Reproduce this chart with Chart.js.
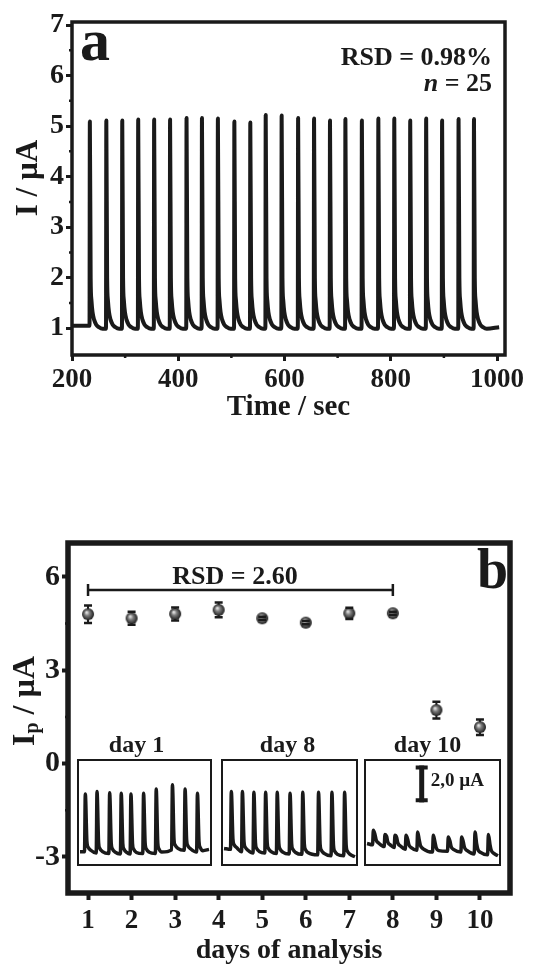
<!DOCTYPE html>
<html>
<head>
<meta charset="utf-8">
<script src="https://cdn.jsdelivr.net/npm/chart.js@4.4.1/dist/chart.umd.min.js"></script>
<style>
  html,body{margin:0;padding:0;background:#fff;}
  #wrap{position:relative;width:553px;height:966px;overflow:hidden;}
  .box{position:absolute;}
</style>
</head>
<body>
<div id="wrap">
  <div class="box" style="left:0;top:0;width:553px;height:430px"><canvas id="chartA"></canvas></div>
  <div class="box" style="left:0;top:500px;width:553px;height:470px"><canvas id="chartB"></canvas></div>
  <div class="box" style="left:77px;top:727px;width:135px;height:139px"><canvas id="inset1"></canvas></div>
  <div class="box" style="left:221px;top:727px;width:137px;height:139px"><canvas id="inset2"></canvas></div>
  <div class="box" style="left:364px;top:727px;width:137px;height:139px"><canvas id="inset3"></canvas></div>
</div>
<script>
'use strict';
// panel a: amperometric response, n = 25 injections
const timeTicks=[200,400,600,800,1000];
const timeMinor=[300,500,700,900];
const currentTicks=[1,2,3,4,5,6,7];
const currentMinor=[1.5,2.5,3.5,4.5,5.5,6.5];
const peakTimes=[233,264,294,324,354,384,415,444,474,505,535,564,594,625,655,685,714,745,776,806,836,866,896,927,956];
const peakHeights=[5.09,5.11,5.11,5.13,5.13,5.13,5.16,5.16,5.15,5.09,5.07,5.22,5.21,5.16,5.15,5.11,5.14,5.11,5.15,5.15,5.11,5.15,5.11,5.14,5.14];
const tailOffsets=[1.5,3,5,8,12,17,24];          // s after each spike
const tailLevels=[2.0,1.55,1.32,1.17,1.07,1.02,0.99]; // µA
const startLevel=1.05;
const endLevel=1.02;
const traceStart=202;
const traceEnd=1004;

// panel b: peak current over days
const days=[1,2,3,4,5,6,7,8,9,10];
const ipValues=[4.80,4.67,4.81,4.94,4.67,4.53,4.83,4.83,1.72,1.17];
const ipErrors=[0.28,0.21,0.21,0.24,0.05,0.05,0.18,0.05,0.27,0.25];
const ipTicks=[-3,0,3,6];
const ipMinor=[-1.5,1.5,4.5];
const rsdFrom=1;
const rsdTo=8;
const rsdLevel=5.58;

// insets (x in % of box width, y in µA)
const insetNames=['day 1','day 8','day 10'];
const day1Pos=[5.5,14.3,23.8,32.5,39.8,49.3,58.8,71,80.5,89.8];
const day1Top=[3.86,3.99,3.92,3.9,3.86,3.9,4.13,4.35,4.13,3.9];
const day1Base=[0.72,0.65,0.62,0.6,0.6,0.62,0.62,0.82,0.8,0.7];
const day8Pos=[6.9,15.1,23.6,32.3,40.9,50.4,59.8,71.5,81.4,90.8];
const day8Top=[3.99,3.99,3.95,3.95,3.95,3.9,3.95,3.95,3.95,3.95];
const day8Base=[0.85,0.72,0.65,0.65,0.62,0.6,0.58,0.55,0.5,0.5];
const day10Pos=[6.2,14.8,22.2,30.4,39,50.6,61.7,71.6,81.5,91.4];
const day10Top=[1.88,1.65,1.61,1.61,1.79,1.61,1.52,1.52,1.79,1.65];
const day10Base=[1.1,1.0,0.95,0.85,0.8,0.7,0.75,0.7,0.6,0.55];
const insetStart=[0.72,0.9,1.17];
const insetEnd=[0.85,0.45,0.5];
const insetTailOffsets=[0.6,1.5,3.5];
const insetTailLevels=[0.55,0.25,0.08];
const scaleBarX=42;
const scaleBarFrom=3.4;
const scaleBarTo=5.4;

const ink='#1a1a1a';
const serif="'Liberation Serif','Times New Roman','DejaVu Serif',serif";

let traceA=[{x:traceStart,y:startLevel}];
let lastLevel=startLevel;
for(let i=0;i<peakTimes.length;i++){
  let t=peakTimes[i];
  traceA.push({x:t,y:lastLevel});
  traceA.push({x:t+0.6,y:peakHeights[i]});
  for(let k=0;k<tailOffsets.length;k++){
    traceA.push({x:t+0.6+tailOffsets[k],y:tailLevels[k]});
  }
  lastLevel=tailLevels[tailLevels.length-1];
}
traceA.push({x:traceEnd,y:endLevel});

function insetTrace(pos,top,base,start,end){
  let pts=[{x:1.5,y:start}];
  for(let i=0;i<pos.length;i++){
    pts.push({x:pos[i]-0.6,y:base[i]});
    pts.push({x:pos[i],y:top[i]});
    for(let k=0;k<insetTailOffsets.length;k++){
      pts.push({x:pos[i]+0.6+insetTailOffsets[k],y:base[i]+insetTailLevels[k]});
    }
  }
  pts.push({x:98.5,y:end});
  return pts;
}

function makeSphere(r){
  let c=document.createElement('canvas');
  c.width=c.height=2*r+2;
  let g=c.getContext('2d');
  let cx=r+1;
  let grad=g.createRadialGradient(cx-r*0.25,cx-r*0.3,r*0.1,cx,cx,r);
  grad.addColorStop(0,'#e0e0e0');
  grad.addColorStop(0.35,'#808080');
  grad.addColorStop(1,'#1c1c1c');
  g.fillStyle=grad;
  g.beginPath();
  g.arc(cx,cx,r,0,Math.PI*2);
  g.fill();
  return c;
}

const framePlugin={
  id:'frame',
  afterDraw(chart,args,opts){
    let a=chart.chartArea, ctx=chart.ctx;
    ctx.save();
    ctx.strokeStyle=ink;
    ctx.lineWidth=opts.width;
    ctx.strokeRect(a.left,a.top,a.right-a.left,a.bottom-a.top);
    ctx.restore();
  }
};

const minorPlugin={
  id:'minor',
  afterDraw(chart,args,opts){
    let ctx=chart.ctx, sx=chart.scales.x, sy=chart.scales.y, a=chart.chartArea;
    ctx.save();
    ctx.strokeStyle=ink;
    ctx.lineWidth=2.5;
    ctx.beginPath();
    (opts.x||[]).forEach(v=>{let p=sx.getPixelForValue(v);ctx.moveTo(p,a.bottom);ctx.lineTo(p,a.bottom+opts.len);});
    (opts.y||[]).forEach(v=>{let p=sy.getPixelForValue(v);ctx.moveTo(a.left,p);ctx.lineTo(a.left-opts.len,p);});
    ctx.stroke();
    ctx.restore();
  }
};

function font(size,style){return (style||'')+' bold '+size+'px '+serif;}

// rotated y title; sub is an optional subscript after the first part
function yTitle(ctx,x,y,size,main,sub,rest){
  ctx.save();
  ctx.translate(x,y);
  ctx.rotate(-Math.PI/2);
  ctx.textBaseline='middle';
  ctx.textAlign='left';
  ctx.font=font(size);
  let w1=ctx.measureText(main).width, w3=ctx.measureText(rest).width;
  ctx.font=font(Math.round(size*0.62));
  let w2=sub?ctx.measureText(sub).width:0;
  let x0=-(w1+w2+w3)/2;
  ctx.font=font(size);
  ctx.fillText(main,x0,0);
  if(sub){
    ctx.font=font(Math.round(size*0.62));
    ctx.fillText(sub,x0+w1,size*0.2);
  }
  ctx.font=font(size);
  ctx.fillText(rest,x0+w1+w2,0);
  ctx.restore();
}

const textA={
  id:'textA',
  afterDraw(chart){
    let ctx=chart.ctx;
    ctx.save();
    ctx.fillStyle=ink;
    ctx.textBaseline='alphabetic';
    ctx.font=font(60);
    ctx.textAlign='left';
    ctx.fillText('a',80,60);
    ctx.font=font(26);
    ctx.textAlign='right';
    ctx.fillText('RSD = 0.98%',492,65);
    let rest=' = 25';
    ctx.fillText(rest,492,91);
    let w=ctx.measureText(rest).width;
    ctx.font=font(26,'italic');
    ctx.fillText('n',492-w,91);
    yTitle(ctx,29,178,31,'I','',' / µA');
    ctx.restore();
  }
};

const textB={
  id:'textB',
  afterDraw(chart){
    let ctx=chart.ctx, sx=chart.scales.x, sy=chart.scales.y;
    ctx.save();
    ctx.fillStyle=ink;
    ctx.strokeStyle=ink;
    // RSD bracket over days 1-8
    let x1=sx.getPixelForValue(rsdFrom), x2=sx.getPixelForValue(rsdTo), yl=sy.getPixelForValue(rsdLevel);
    ctx.lineWidth=2.5;
    ctx.beginPath();
    ctx.moveTo(x1,yl);ctx.lineTo(x2,yl);
    ctx.moveTo(x1,yl-6);ctx.lineTo(x1,yl+6);
    ctx.moveTo(x2,yl-6);ctx.lineTo(x2,yl+6);
    ctx.stroke();
    ctx.textBaseline='alphabetic';
    ctx.textAlign='center';
    ctx.font=font(26);
    ctx.fillText('RSD = 2.60',235,84);
    ctx.textAlign='left';
    ctx.font=font(56);
    ctx.fillText('b',477,88);
    yTitle(ctx,26,201,32,'I','p',' / µA');
    ctx.restore();
  }
};

const errorBars={
  id:'errorBars',
  beforeDatasetsDraw(chart){
    let ctx=chart.ctx, sx=chart.scales.x, sy=chart.scales.y;
    ctx.save();
    ctx.strokeStyle=ink;
    ctx.lineWidth=2;
    ctx.beginPath();
    days.forEach((d,i)=>{
      let x=sx.getPixelForValue(d);
      ctx.moveTo(x,sy.getPixelForValue(ipValues[i]+ipErrors[i]));
      ctx.lineTo(x,sy.getPixelForValue(ipValues[i]-ipErrors[i]));
    });
    ctx.stroke();
    ctx.restore();
  },
  afterDatasetsDraw(chart){
    let ctx=chart.ctx, sx=chart.scales.x, sy=chart.scales.y;
    ctx.save();
    ctx.strokeStyle=ink;
    ctx.lineWidth=2.5;
    ctx.beginPath();
    days.forEach((d,i)=>{
      let x=sx.getPixelForValue(d);
      [ipValues[i]+ipErrors[i],ipValues[i]-ipErrors[i]].forEach(v=>{
        let y=sy.getPixelForValue(v);
        ctx.moveTo(x-4,y);ctx.lineTo(x+4,y);
      });
    });
    ctx.stroke();
    ctx.restore();
  }
};

const insetDeco={
  id:'insetDeco',
  afterDraw(chart,args,opts){
    let a=chart.chartArea, ctx=chart.ctx;
    ctx.save();
    ctx.strokeStyle=ink;
    ctx.lineWidth=2;
    ctx.strokeRect(a.left,a.top,a.right-a.left,a.bottom-a.top);
    ctx.fillStyle=ink;
    ctx.font=font(24);
    ctx.textAlign='center';
    ctx.textBaseline='alphabetic';
    ctx.fillText(opts.name,(a.left+a.right)/2+opts.shift,a.top-8);
    if(opts.scaleBar){
      let sx=chart.scales.x, sy=chart.scales.y;
      let x=sx.getPixelForValue(scaleBarX), y1=sy.getPixelForValue(scaleBarFrom), y2=sy.getPixelForValue(scaleBarTo);
      ctx.lineWidth=5;
      ctx.beginPath();
      ctx.moveTo(x,y1);ctx.lineTo(x,y2);
      ctx.stroke();
      ctx.lineWidth=4;
      ctx.beginPath();
      ctx.moveTo(x-6,y1-2);ctx.lineTo(x+6,y1-2);
      ctx.moveTo(x-6,y2+2);ctx.lineTo(x+6,y2+2);
      ctx.stroke();
      ctx.font=font(19);
      ctx.textAlign='left';
      ctx.textBaseline='middle';
      ctx.fillText('2,0 µA',x+9,(y1+y2)/2-3);
    }
    ctx.restore();
  }
};

function tickList(values){return s=>{s.ticks=values.map(v=>({value:v}));};}

new Chart(document.getElementById('chartA'),{
  type:'line',
  data:{datasets:[{data:traceA,borderColor:ink,borderWidth:4,pointRadius:0,cubicInterpolationMode:'monotone',borderJoinStyle:'round'}]},
  options:{
    responsive:true,maintainAspectRatio:false,animation:false,
    layout:{padding:{top:22,right:48,left:0,bottom:0}},
    plugins:{legend:{display:false},tooltip:{enabled:false},
      frame:{width:3.5},minor:{x:timeMinor,y:currentMinor,len:3}},
    scales:{
      x:{type:'linear',min:200,max:1015,
        afterBuildTicks:tickList(timeTicks),
        afterFit:s=>{s.height=75;},
        grid:{drawOnChartArea:false,drawTicks:true,tickLength:6,tickWidth:3,tickColor:ink},
        border:{display:false},
        ticks:{color:ink,font:{family:serif,size:27,weight:'bold'},padding:3,maxRotation:0,callback:v=>String(v)},
        title:{display:true,text:'Time / sec',color:ink,font:{family:serif,size:29,weight:'bold'},padding:{top:0,bottom:5}}
      },
      y:{type:'linear',min:0.47,max:7.06,
        afterBuildTicks:tickList(currentTicks),
        afterFit:s=>{s.width=72;},
        grid:{drawOnChartArea:false,drawTicks:true,tickLength:6,tickWidth:3,tickColor:ink},
        border:{display:false},
        ticks:{color:ink,font:{family:serif,size:28,weight:'bold'},padding:2,callback:v=>String(v)},
        title:{display:false}
      }
    }
  },
  plugins:[framePlugin,minorPlugin,textA]
});

new Chart(document.getElementById('chartB'),{
  type:'scatter',
  data:{datasets:[{data:days.map((d,i)=>({x:d,y:ipValues[i]})),pointStyle:makeSphere(6),pointRadius:6}]},
  options:{
    responsive:true,maintainAspectRatio:false,animation:false,
    layout:{padding:{top:43,right:43,left:0,bottom:0}},
    plugins:{legend:{display:false},tooltip:{enabled:false},
      frame:{width:5.5},minor:{y:ipMinor,len:3}},
    scales:{
      x:{type:'linear',min:0.54,max:10.69,
        afterBuildTicks:tickList(days),
        afterFit:s=>{s.height=77;},
        grid:{drawOnChartArea:false,drawTicks:true,tickLength:7,tickWidth:4,tickColor:ink},
        border:{display:false},
        ticks:{color:ink,font:{family:serif,size:27,weight:'bold'},padding:5,maxRotation:0,callback:v=>String(v)},
        title:{display:true,text:'days of analysis',color:ink,font:{family:serif,size:28,weight:'bold'},padding:{top:0,bottom:2}}
      },
      y:{type:'linear',min:-4.16,max:7.09,
        afterBuildTicks:tickList(ipTicks),
        afterFit:s=>{s.width=68;},
        grid:{drawOnChartArea:false,drawTicks:true,tickLength:6,tickWidth:4,tickColor:ink},
        border:{display:false},
        ticks:{color:ink,font:{family:serif,size:30,weight:'bold'},padding:2,callback:v=>String(v)},
        title:{display:false}
      }
    }
  },
  plugins:[framePlugin,minorPlugin,errorBars,textB]
});

const insetSets=[
  [day1Pos,day1Top,day1Base],
  [day8Pos,day8Top,day8Base],
  [day10Pos,day10Top,day10Base]
];
const insetShift=[-8,-2,-5];
insetSets.forEach((set,i)=>{
  new Chart(document.getElementById('inset'+(i+1)),{
    type:'line',
    data:{datasets:[{data:insetTrace(set[0],set[1],set[2],insetStart[i],insetEnd[i]),borderColor:ink,borderWidth:3.5,pointRadius:0,cubicInterpolationMode:'monotone',borderJoinStyle:'round'}]},
    options:{
      responsive:true,maintainAspectRatio:false,animation:false,
      layout:{padding:{top:33,left:1,right:1,bottom:1}},
      plugins:{legend:{display:false},tooltip:{enabled:false},
        insetDeco:{name:insetNames[i],shift:insetShift[i],scaleBar:i===2}},
      scales:{
        x:{type:'linear',min:0,max:100,display:false},
        y:{type:'linear',min:0,max:5.7,display:false}
      }
    },
    plugins:[insetDeco]
  });
});
</script>
</body>
</html>
